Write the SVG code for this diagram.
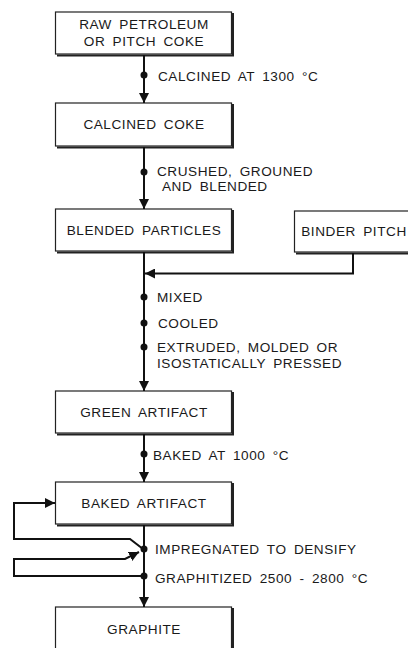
<svg xmlns="http://www.w3.org/2000/svg" width="408" height="648" viewBox="0 0 408 648">
<defs>
<marker id="ah" viewBox="0 0 10 10" refX="10" refY="5" markerWidth="10" markerHeight="10" markerUnits="userSpaceOnUse" orient="auto">
<path d="M0,0 L10,5 L0,10 Z" fill="#111"/>
</marker>
</defs>
<style>
text{font-family:"Liberation Sans",Arial,sans-serif;font-size:13.6px;fill:#1a1a1a;letter-spacing:0.55px;word-spacing:3px}
.c{text-anchor:middle}
.box{fill:#fff;stroke:#222;stroke-width:1.2}
.sh{fill:none;stroke:#222;stroke-width:2}
.ln{fill:none;stroke:#111;stroke-width:2}
.dot{fill:#111}
</style>
<rect width="408" height="648" fill="#fff"/>

<g id="n1">
<rect class="box" x="55.5" y="12" width="176" height="42"/>
<polyline class="sh" points="233,13 233,55.5 57,55.5"/>
<text class="c" x="144" y="29">RAW PETROLEUM</text>
<text class="c" x="144" y="46">OR PITCH COKE</text>
</g>
<g id="n2">
<rect class="box" x="55.5" y="103" width="176" height="43"/>
<polyline class="sh" points="233,104 233,147.5 57,147.5"/>
<text class="c" x="144" y="129">CALCINED COKE</text>
</g>
<g id="n3">
<rect class="box" x="55.5" y="209" width="176" height="42"/>
<polyline class="sh" points="233,210 233,252.5 57,252.5"/>
<text class="c" x="144" y="235">BLENDED PARTICLES</text>
</g>
<g id="n4">
<rect class="box" x="294.5" y="211" width="122" height="41"/>
<polyline class="sh" points="296,253.5 418,253.5"/>
<text class="c" x="354" y="236">BINDER PITCH</text>
</g>
<g id="n5">
<rect class="box" x="55.5" y="391" width="176" height="42"/>
<polyline class="sh" points="233,392 233,434.5 57,434.5"/>
<text class="c" x="144" y="417">GREEN ARTIFACT</text>
</g>
<g id="n6">
<rect class="box" x="55.5" y="482" width="176" height="42"/>
<polyline class="sh" points="233,483 233,525.5 57,525.5"/>
<text class="c" x="144" y="508">BAKED ARTIFACT</text>
</g>
<g id="n7">
<rect class="box" x="55.5" y="607" width="176" height="45"/>
<polyline class="sh" points="233,608 233,652"/>
<text class="c" x="144" y="634">GRAPHITE</text>
</g>

<g id="connectors">
<line class="ln" x1="144" y1="55" x2="144" y2="103" marker-end="url(#ah)"/>
<line class="ln" x1="144" y1="147" x2="144" y2="209" marker-end="url(#ah)"/>
<line class="ln" x1="144" y1="252" x2="144" y2="391" marker-end="url(#ah)"/>
<polyline class="ln" points="353,253 353,273.5 145,273.5" marker-end="url(#ah)"/>
<line class="ln" x1="144" y1="434" x2="144" y2="482" marker-end="url(#ah)"/>
<line class="ln" x1="144" y1="525" x2="144" y2="607" marker-end="url(#ah)"/>
<polyline class="ln" points="143,549 130,539 14,539 14,503 55,503" marker-end="url(#ah)"/>
<polyline class="ln" points="143,576 14,576 14,559 125,559 139,552" marker-end="url(#ah)"/>
<circle class="dot" cx="144" cy="75" r="3.5"/>
<circle class="dot" cx="144" cy="172" r="3.5"/>
<circle class="dot" cx="144" cy="297" r="3.5"/>
<circle class="dot" cx="144" cy="323" r="3.5"/>
<circle class="dot" cx="144" cy="347" r="3.5"/>
<circle class="dot" cx="144" cy="454" r="3.5"/>
<circle class="dot" cx="144" cy="549" r="3.5"/>
<circle class="dot" cx="144" cy="576" r="3.5"/>
</g>

<g id="labels">
<text x="158" y="81">CALCINED AT 1300 °C</text>
<text x="157" y="176">CRUSHED, GROUNED</text>
<text x="162" y="191">AND BLENDED</text>
<text x="157" y="302">MIXED</text>
<text x="158" y="328">COOLED</text>
<text x="157" y="352">EXTRUDED, MOLDED OR</text>
<text x="157" y="368">ISOSTATICALLY PRESSED</text>
<text x="153" y="460">BAKED AT 1000 °C</text>
<text x="155" y="554">IMPREGNATED TO DENSIFY</text>
<text x="155" y="583">GRAPHITIZED 2500 - 2800 °C</text>
</g>
</svg>
